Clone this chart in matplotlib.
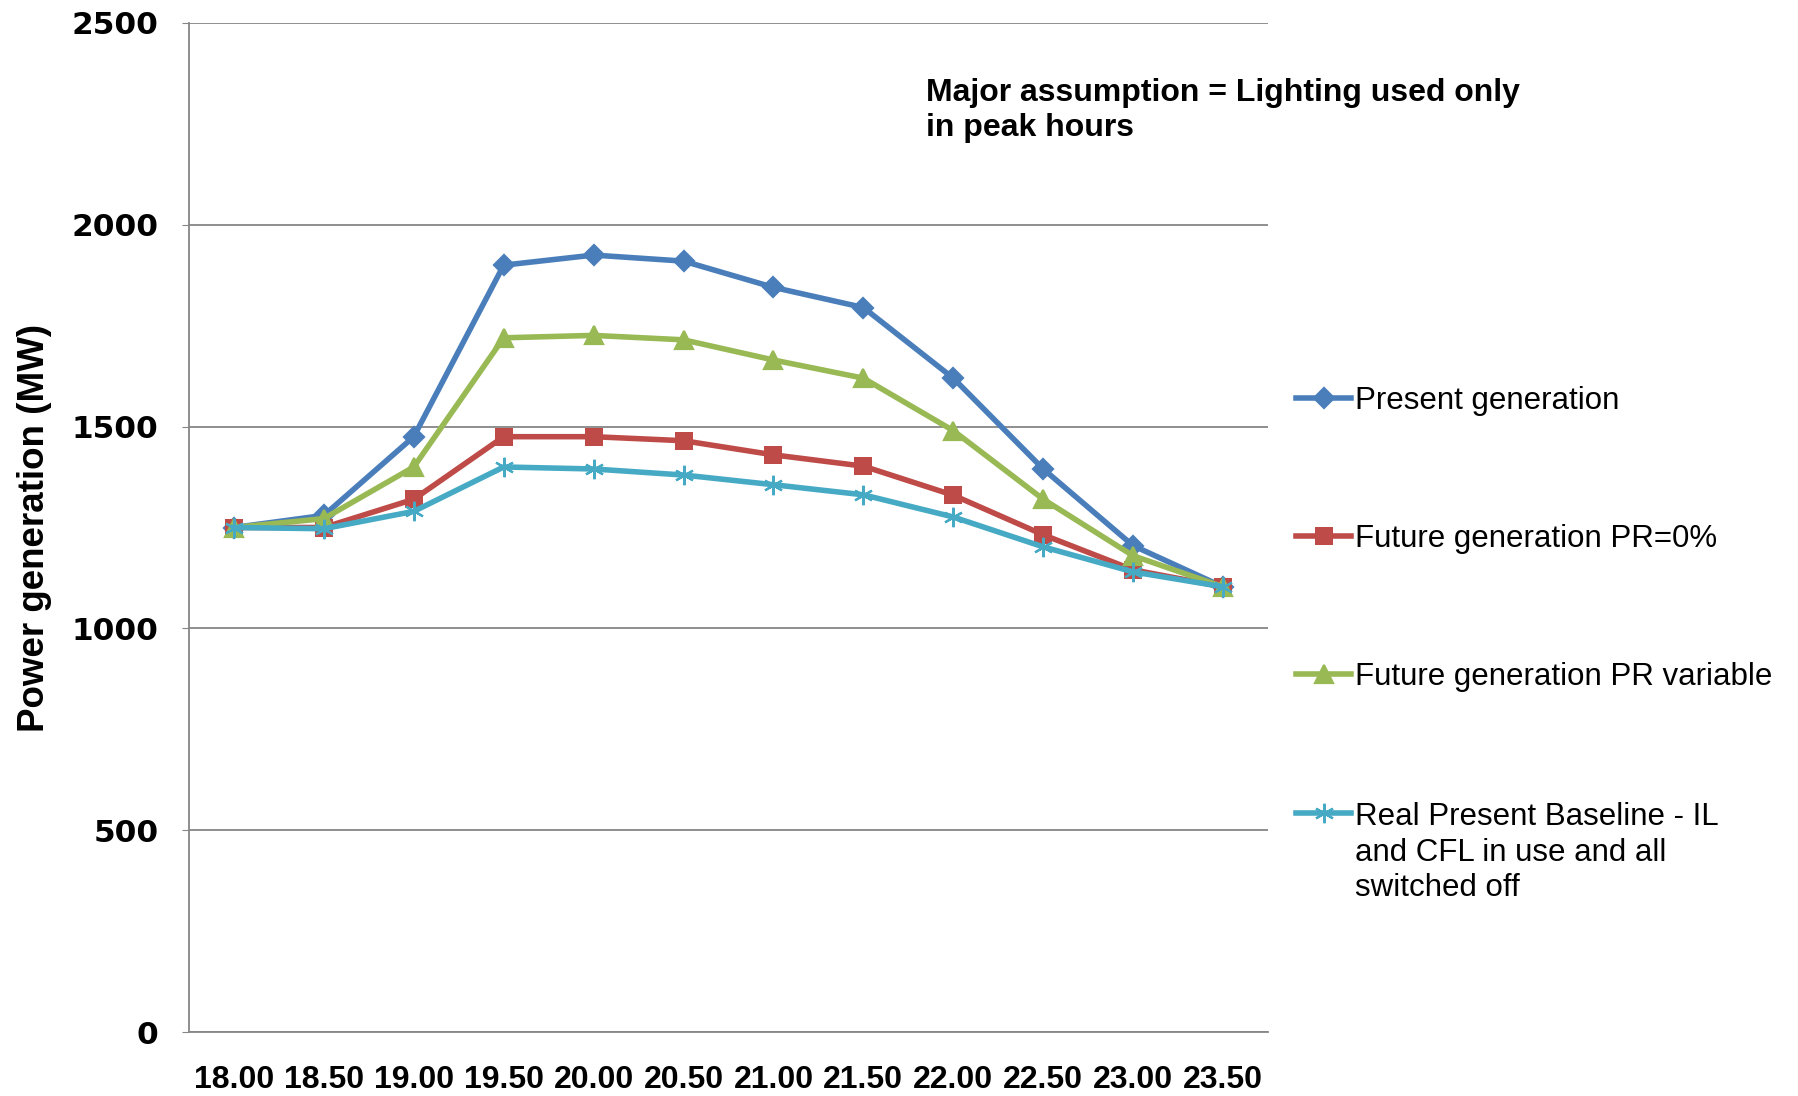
import matplotlib
matplotlib.use("agg")
import matplotlib.pyplot as plt
from matplotlib.lines import Line2D

# half-hourly evening slots and generation (MW) for each scenario
times = ['18.00', '18.50', '19.00', '19.50', '20.00', '20.50',
         '21.00', '21.50', '22.00', '22.50', '23.00', '23.50']
present_gen = [1250, 1280, 1475, 1900, 1925, 1910, 1845, 1795, 1620, 1395, 1205, 1103]
future_pr0 = [1250, 1250, 1320, 1475, 1475, 1465, 1430, 1402, 1330, 1232, 1145, 1103]
future_prvar = [1250, 1272, 1400, 1720, 1726, 1715, 1665, 1620, 1490, 1320, 1180, 1103]
baseline = [1250, 1247, 1290, 1400, 1395, 1380, 1356, 1331, 1276, 1202, 1140, 1103]

labels = ['Present generation',
          'Future generation PR=0%',
          'Future generation PR variable',
          'Real Present Baseline - IL\nand CFL in use and all\nswitched off']
colors = ['#4A7EBB', '#BE4B48', '#98B954', '#46AAC5']
markers = ['D', 's', '^', (6, 2, 0)]
msizes = [10, 13, 13, 14]

W, H = 1798, 1096
GREY = '#868686'
LW = 4.0
LEG_LINE = 36  # px between wrapped legend lines

fig = plt.figure(figsize=(W / 100, H / 100), dpi=100)
ax = fig.add_axes([189 / W, 1 - 1032 / H, 1079 / W, 1009 / H])

series = [present_gen, future_pr0, future_prvar, baseline]
for vals, c, m, ms in zip(series, colors, markers, msizes):
    ax.plot(times, vals, color=c, lw=LW, marker=m, markersize=ms,
            markeredgecolor=c, markeredgewidth=1.6 if m != 's' else 0, zorder=3)

ax.set_xlim(-0.5, 11.5)
ax.set_ylim(0, 2500)
ax.set_yticks([0, 500, 1000, 1500, 2000, 2500])
ax.yaxis.grid(True, color=GREY, lw=1.3)
ax.set_axisbelow(True)

for s in ['top', 'right']:
    ax.spines[s].set_visible(False)
for s in ['left', 'bottom']:
    ax.spines[s].set_color(GREY)
    ax.spines[s].set_linewidth(1.3)

ax.tick_params(axis='y', length=5, color=GREY, pad=17)
ax.tick_params(axis='x', length=0, pad=24)
for t in ax.get_yticklabels():
    t.set_fontfamily('DejaVu Sans')
    t.set_fontweight('bold')
    t.set_fontsize(22.5)
for t in ax.get_xticklabels():
    t.set_fontfamily(['Liberation Sans Narrow', 'Liberation Sans'])
    t.set_fontweight('bold')
    t.set_fontsize(23)

ax.set_ylabel('Power generation (MW)', fontsize=26.5, fontweight='bold',
              family='Liberation Sans')
ax.yaxis.set_label_coords(-0.127, 0.5)

fig.text(926 / W, 1 - 78 / H,
         'Major assumption = Lighting used only\nin peak hours',
         fontsize=23, fontweight='bold', family='Liberation Sans',
         va='top', ha='left', linespacing=1.2)

# legend drawn by hand so the marker sits on the first line of each label
leg_y = [398, 535.5, 674, 813]
for lab, c, m, ms, y in zip(labels, colors, markers, msizes, leg_y):
    yf = 1 - y / H
    fig.add_artist(Line2D([1296 / W, 1323.5 / W, 1351 / W], [yf, yf, yf],
                          transform=fig.transFigure, color=c, lw=LW,
                          marker=m, markersize=ms, markevery=[1],
                          markeredgecolor=c,
                          markeredgewidth=1.6 if m != 's' else 0))
    # baseline alignment anchors the last line of a wrapped label
    nlines = lab.count('\n')
    base = y + 11.5 + nlines * LEG_LINE
    fig.text(1355 / W, 1 - base / H, lab, fontsize=22.5,
             family='Liberation Sans', va='baseline', ha='left',
             linespacing=1.26)

fig.savefig('out.png', dpi=100)
